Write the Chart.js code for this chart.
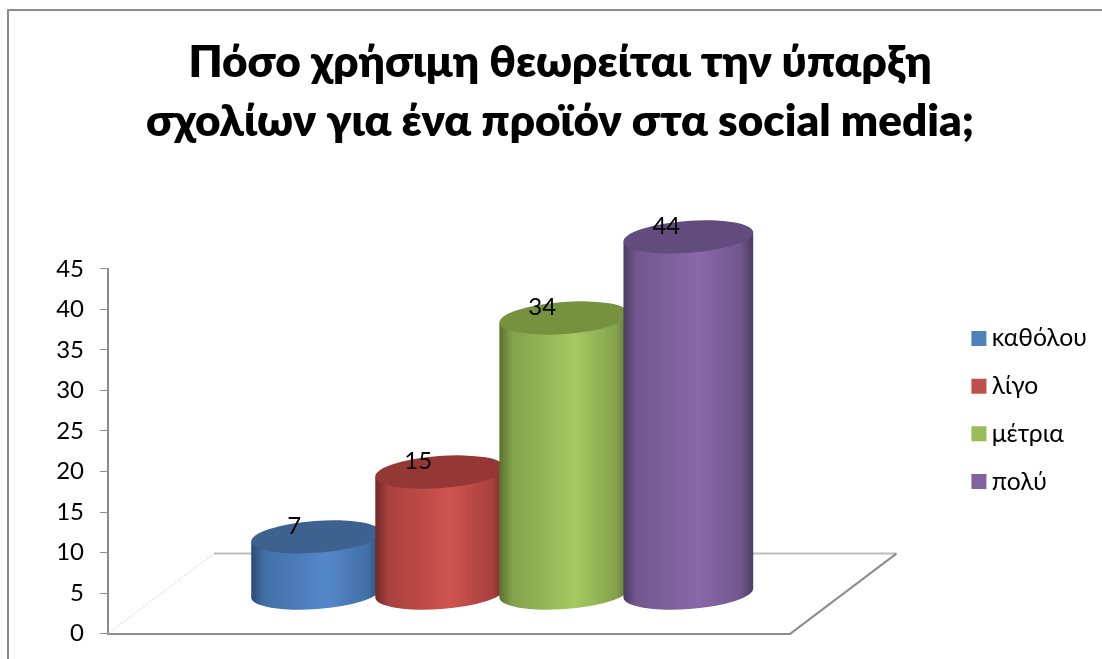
<!DOCTYPE html>
<html>
<head>
<meta charset="utf-8">
<script src="https://cdn.jsdelivr.net/npm/chart.js@4"></script>
<style>
  html, body { margin: 0; padding: 0; background: #fff; overflow: hidden; }
  #frame {
    position: absolute; left: 7px; top: 9px;
    border-left: 2px solid #8c8c8c; border-top: 2px solid #8c8c8c;
  }
  canvas { display: block; }
</style>
</head>
<body>
<div id="frame"><canvas id="survey" width="1102" height="653"></canvas></div>
<script>
var titleLines = ["Πόσο χρήσιμη θεωρείται την ύπαρξη", "σχολίων για ένα προϊόν στα social media;"];
var seriesNames = ["καθόλου", "λίγο", "μέτρια", "πολύ"];
var seriesValues = [7, 15, 34, 44];
var legendColors = ["#4f81bd", "#c0504d", "#9bbb59", "#8064a2"];
var topColors = ["#3d6290", "#943735", "#77923f", "#624b7d"];
var edgeColors = ["#2b4a70", "#6f2a28", "#5a7030", "#4a3a62"];
var shadeColors = ["#426fa5", "#a8403d", "#83a24c", "#72578f"];
var midColors = ["#5587cc", "#cf534f", "#a6c960", "#8a68a9"];
var axisMax = 45;
var axisStep = 5;

var fontName = "Lato, 'Noto Sans', sans-serif";
var axisGray = "#8c8c8c";
var floorDepthX = 106;
var floorDepthY = 80;

// floor of the 3d plot, behind the cylinders
function drawFloor(chart) {
  var ctx = chart.ctx;
  var a = chart.chartArea;
  ctx.save();
  ctx.lineWidth = 2;
  ctx.strokeStyle = "#bdbdbd";
  ctx.beginPath();
  ctx.moveTo(a.left + floorDepthX, a.bottom - floorDepthY);
  ctx.lineTo(a.right + floorDepthX, a.bottom - floorDepthY);
  ctx.stroke();
  ctx.strokeStyle = axisGray;
  ctx.beginPath();
  ctx.moveTo(a.right, a.bottom);
  ctx.lineTo(a.right + floorDepthX, a.bottom - floorDepthY);
  ctx.stroke();
  ctx.lineWidth = 1;
  ctx.strokeStyle = "#cfcfcf";
  ctx.setLineDash([2, 2]);
  ctx.beginPath();
  ctx.moveTo(a.left, a.bottom);
  ctx.lineTo(a.left + floorDepthX, a.bottom - floorDepthY);
  ctx.stroke();
  ctx.restore();
}

function drawCylinder(ctx, bar, i) {
  var rx = bar.width * 130 / 124 / 2;
  var ry = 16;
  var tilt = -4.2 * Math.PI / 180;
  var cx = bar.x + floorDepthX / 2;
  var topY = bar.y - floorDepthY / 2;
  var baseY = bar.base - floorDepthY / 2;

  var grad = ctx.createLinearGradient(cx - rx, 0, cx + rx, 0);
  grad.addColorStop(0, edgeColors[i]);
  grad.addColorStop(0.1, shadeColors[i]);
  grad.addColorStop(0.58, midColors[i]);
  grad.addColorStop(0.9, shadeColors[i]);
  grad.addColorStop(1, edgeColors[i]);

  ctx.beginPath();
  ctx.ellipse(cx, baseY, rx, ry, tilt, 0, Math.PI);
  ctx.lineTo(cx - rx * Math.cos(tilt), topY - rx * Math.sin(tilt));
  ctx.lineTo(cx + rx * Math.cos(tilt), topY + rx * Math.sin(tilt));
  ctx.closePath();
  ctx.fillStyle = grad;
  ctx.fill();

  ctx.beginPath();
  ctx.ellipse(cx, topY, rx, ry, tilt, 0, Math.PI * 2);
  ctx.fillStyle = topColors[i];
  ctx.fill();
}

var cylinders = {
  id: "cylinders",
  // legend block sits above the middle of the plot
  afterLayout: function(chart) {
    chart.legend.top += 75;
    chart.legend.bottom += 75;
  },
  beforeDatasetsDraw: function(chart) {
    drawFloor(chart);
  },
  // the bars themselves are replaced by cylinders
  beforeDatasetDraw: function() {
    return false;
  },
  afterDatasetsDraw: function(chart) {
    var ctx = chart.ctx;
    var bars = seriesValues.map(function(v, i) {
      return chart.getDatasetMeta(i).data[0];
    });
    bars.forEach(function(bar, i) {
      drawCylinder(ctx, bar, i);
    });
    // value labels sit on the cylinder tops
    ctx.save();
    ctx.font = "24px " + fontName;
    ctx.fillStyle = "#000";
    ctx.textAlign = "center";
    ctx.textBaseline = "middle";
    bars.forEach(function(bar, i) {
      ctx.fillText(seriesValues[i], bar.x + floorDepthX / 2 - 22, bar.y - floorDepthY / 2 - 11);
    });
    ctx.restore();
  }
};

new Chart(document.getElementById("survey"), {
  type: "bar",
  plugins: [cylinders],
  data: {
    labels: [""],
    datasets: seriesNames.map(function(name, i) {
      // the thick border squares up the legend swatch next to its text
      return { label: name, data: [seriesValues[i]], backgroundColor: legendColors[i], borderColor: legendColors[i], borderWidth: 14 };
    })
  },
  options: {
    responsive: false,
    animation: false,
    layout: { padding: { left: 14, right: 14, top: 0, bottom: 5 } },
    datasets: { bar: { barPercentage: 1, categoryPercentage: 496 / 682 } },
    plugins: {
      tooltip: { enabled: false },
      title: {
        display: true,
        text: titleLines,
        color: "#000",
        font: { family: fontName, size: 44, weight: "800", lineHeight: 1.35 },
        padding: { top: 22, bottom: 117 }
      },
      legend: {
        position: "right",
        labels: {
          boxWidth: 1,
          boxHeight: 1,
          padding: 23,
          color: "#000",
          font: { family: fontName, size: 24.7 }
        }
      }
    },
    scales: {
      x: {
        grid: { display: false },
        border: { color: axisGray, width: 2 },
        ticks: { display: false }
      },
      y: {
        min: 0,
        max: axisMax,
        afterFit: function(scale) { scale.width = 85; },
        grid: { drawOnChartArea: false, tickLength: 8, color: axisGray, lineWidth: 1 },
        border: { color: axisGray, width: 2 },
        ticks: { stepSize: axisStep, padding: 16, color: "#000", font: { family: fontName, size: 24 } }
      },
      // empty axis that keeps the gap between the floor and the legend
      gap: {
        position: "right",
        afterFit: function(scale) { scale.width = 165; },
        grid: { display: false },
        border: { display: false },
        ticks: { display: false }
      }
    }
  }
});
</script>
</body>
</html>
